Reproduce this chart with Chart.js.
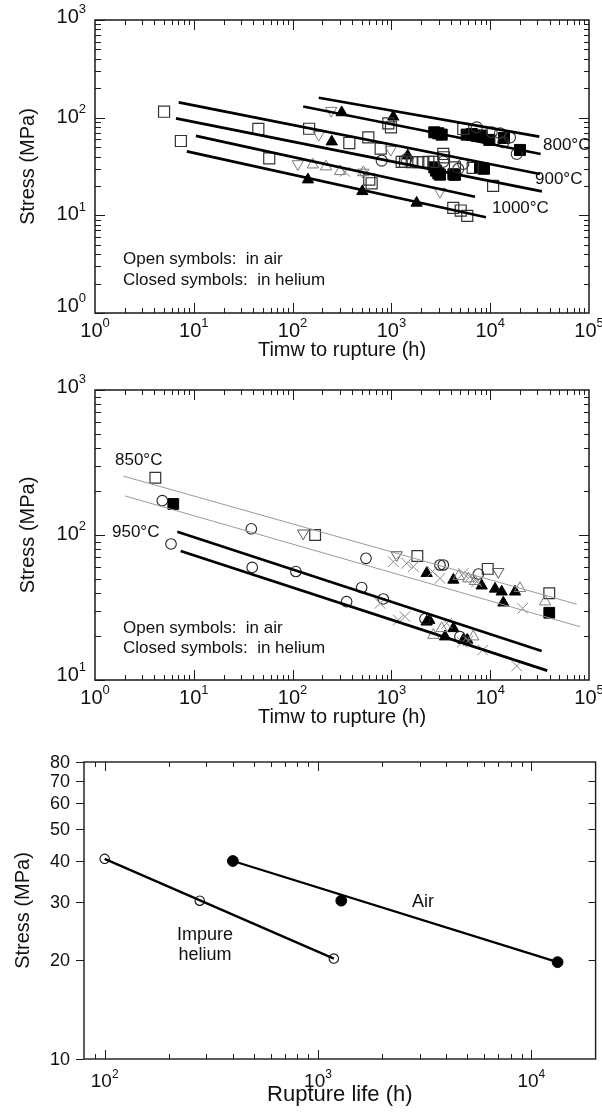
<!DOCTYPE html>
<html>
<head>
<meta charset="utf-8">
<script src="https://cdn.jsdelivr.net/npm/chart.js@4.4.1/dist/chart.umd.min.js"></script>
<style>
  html, body { margin: 0; padding: 0; background: #fff; }
  #wrap { position: relative; width: 602px; height: 1113px; }
  canvas { position: absolute; left: 0; }
</style>
</head>
<body>
<div id="wrap">
  <canvas id="c1" width="602" height="370" style="top:0px"></canvas>
  <canvas id="c2" width="602" height="370" style="top:370px"></canvas>
  <canvas id="c3" width="602" height="373" style="top:740px"></canvas>
</div>
<script>
const FF = "'Liberation Sans', Arial, Helvetica, sans-serif";

// ---------- Panel 1: 800 / 900 / 1000 °C (time h, stress MPa) ----------
const p1SqOpenT = [5, 7.4, 45, 58, 147, 375, 584, 597, 631, 779, 931, 990, 1271, 1373, 1604, 1872, 2105, 2365, 2656, 3350, 3410, 4400, 5340, 6650, 10700, 4230, 5030, 5860];
const p1SqOpenS = [115, 57.7, 76.6, 38.3, 77, 55, 62.9, 23.2, 21.3, 48.2, 87.5, 79.6, 35.3, 35.3, 35, 35, 35, 35.3, 35.3, 42.5, 39.3, 31, 76.6, 30.6, 20, 11.9, 11.2, 9.86];
const p1SqFillT = [2717, 2985, 3230, 5780, 6500, 7300, 8200, 9800, 13800, 20000, 2717, 2825, 2985, 3100, 4240, 4400, 7890, 8650];
const p1SqFillS = [70.8, 69.2, 67, 67, 68, 65.5, 65.5, 59.2, 62, 46.7, 31, 28.7, 26.9, 26.1, 26.3, 26, 30.5, 30];
const p1CircT = [798, 1420, 3350, 4750, 5340, 7300, 10350, 12560, 13580, 15850, 18550];
const p1CircS = [36.3, 37.7, 35.4, 29.9, 33.6, 79.6, 70.8, 69.2, 56, 62.8, 42.5];
const p1TriUpT = [160, 218, 302, 520];
const p1TriUpS = [33, 31.5, 28.2, 27.5];
const p1TriDnT = [113, 184, 246, 520, 984, 3100];
const p1TriDnS = [33.6, 67, 118, 27.5, 47, 17.5];
const p1TriFillT = [143, 249, 314, 508, 1045, 1462, 1800];
const p1TriFillS = [23.2, 56.8, 113, 17.6, 102, 40.8, 13.4];
const p1CrossT = [339];
const p1CrossS = [28];
// fitted lines: start/end time and stress (pairs per temperature)
const p1LineT0 = [184, 128, 7.03, 6.6, 10.5, 8.5];
const p1LineS0 = [160, 130, 143.5, 98.4, 65, 45.2];
const p1LineT1 = [31400, 32400, 31900, 33400, 7020, 9060];
const p1LineS1 = [64, 42.5, 26.5, 17.6, 15.5, 9.55];
const p1Temps = ['800°C', '900°C', '1000°C'];

// ---------- Panel 2: 850 / 950 °C ----------
const p2SqOpenT = [4.08, 169, 1830, 9440, 39600];
const p2SqOpenS = [248, 100, 71.6, 58.4, 39.6];
const p2SqFillT = [6.2, 39600];
const p2SqFillS = [163.7, 29.1];
const p2CircT = [4.8, 5.88, 38.2, 39, 108, 352, 500, 553, 828, 2188, 3100, 3350, 4940, 7590];
const p2CircS = [172.6, 86.7, 110.4, 59.8, 56, 34.7, 43.4, 69, 36.2, 26.4, 62.1, 62.1, 19.9, 53.8];
const p2TriDnT = [128, 1130, 12080];
const p2TriDnS = [102.8, 72.8, 55.8];
const p2TriUpT = [2655, 3230, 4800, 6000, 6740, 7000, 20000, 35900];
const p2TriUpS = [20.4, 22.7, 52, 50, 19.9, 48, 42.9, 34.7];
const p2TriFillT = [2275, 2275, 2420, 3490, 4240, 4240, 5350, 5860, 8200, 11200, 13070, 13580, 17830];
const p2TriFillS = [54.5, 25.2, 25.9, 19.9, 49, 22.7, 18.9, 18.9, 44.7, 42.5, 40.6, 34.1, 40.6];
const p2CrossT = [767, 1045, 1175, 1372, 1428, 1667, 2600, 3100, 3630, 5200, 5350, 6000, 6240, 7300, 8400, 18540, 21300];
const p2CrossS = [33.8, 65.5, 25.9, 27.4, 63.8, 60.4, 56, 50.2, 24.6, 18.2, 54.5, 18.6, 51.5, 47.6, 16.1, 12.5, 31.2];
const p2LineT0 = [1.93, 2.01, 6.81, 7.36];
const p2LineS0 = [255, 186, 105.4, 77.6];
const p2LineT1 = [75100, 81100, 33200, 37800];
const p2LineS1 = [33.3, 23.3, 15.85, 11.6];
const p2Temps = ['850°C', '950°C'];

// ---------- Panel 3: rupture life, air vs impure helium ----------
const heliumT = [100, 279, 1186];
const heliumS = [40.6, 30.3, 20.2];
const airT = [399, 1285, 13270];
const airS = [40, 30.3, 19.7];

// tick labels
const decadeLabels = [1, 10, 100, 1000, 10000, 100000];
const p3XLabels = [100, 1000, 10000];
const p3YLabels = [10, 20, 30, 40, 50, 60, 70, 80];
const p3YRightTicks = [20, 30, 40, 50, 60, 70];

// ---------- helpers ----------
function pts(T, S) { return T.map((t, i) => ({ x: t, y: S[i] })); }

function markers(T, S, style) {
  const s = Object.assign({ pointStyle: 'circle', radius: 5, color: '#222', fill: 'rgba(0,0,0,0)', width: 1.2, rotation: 0 }, style);
  return {
    data: pts(T, S), showLine: false,
    pointStyle: s.pointStyle, pointRadius: s.radius, pointRotation: s.rotation,
    pointBorderColor: s.color, pointBackgroundColor: s.fill, pointBorderWidth: s.width,
    borderColor: s.color, backgroundColor: s.fill
  };
}

function segment(t0, s0, t1, s1, width, color) {
  return {
    data: [{ x: t0, y: s0 }, { x: t1, y: s1 }], showLine: true,
    pointRadius: 0, borderWidth: width, borderColor: color, fill: false
  };
}

function logSteps(min, max) {
  const major = [], minor = [];
  for (let e = Math.floor(Math.log10(min)); e <= Math.ceil(Math.log10(max)); e++) {
    for (let m = 1; m <= 9; m++) {
      const v = m * Math.pow(10, e);
      if (v < min * 0.9999 || v > max * 1.0001) continue;
      (m === 1 ? major : minor).push(v);
    }
  }
  return { major, minor };
}

function drawPow(ctx, v, x, y, align, size, esize) {
  const b = '10', e = String(Math.round(Math.log10(v)));
  ctx.font = size + 'px ' + FF; const wb = ctx.measureText(b).width;
  ctx.font = esize + 'px ' + FF; const we = ctx.measureText(e).width;
  const w = wb + we;
  const x0 = align === 'center' ? x - w / 2 : (align === 'right' ? x - w : x);
  ctx.textAlign = 'left'; ctx.textBaseline = 'alphabetic';
  ctx.font = size + 'px ' + FF; ctx.fillText(b, x0, y);
  ctx.font = esize + 'px ' + FF; ctx.fillText(e, x0 + wb, y - size * 0.48);
}

// frame, inward/outward ticks, tick labels, titles and notes
function makeFrame(spec) {
  return {
    id: 'axesFrame',
    beforeDatasetsDraw(chart) {
      const { ctx, chartArea: a } = chart;
      const xs = chart.scales.x, ys = chart.scales.y;
      const X = v => Math.round(xs.getPixelForValue(v)) + 0.5;
      const Y = v => Math.round(ys.getPixelForValue(v)) + 0.5;
      ctx.save();
      ctx.strokeStyle = '#1a1a1a';
      ctx.lineWidth = 1;
      ctx.beginPath();
      const seg = (x1, y1, x2, y2) => { ctx.moveTo(x1, y1); ctx.lineTo(x2, y2); };
      spec.xTicks.forEach(g => g.vals.forEach(v => {
        const p = X(v);
        if (p <= a.left + 1 || p >= a.right - 1) return;
        seg(p, a.top, p, a.top + g.len);
        seg(p, a.bottom, p, a.bottom - g.len);
      }));
      spec.yLeft.forEach(g => g.vals.forEach(v => {
        const p = Y(v);
        seg(a.left - (g.out || 0), p, a.left + (g.in || 0), p);
      }));
      spec.yRight.forEach(g => g.vals.forEach(v => {
        const p = Y(v);
        if (p <= a.top + 1 || p >= a.bottom - 1) return;
        seg(a.right, p, a.right - g.len, p);
      }));
      ctx.stroke();
      ctx.lineWidth = spec.frameWidth;
      ctx.strokeRect(a.left, a.top, a.right - a.left, a.bottom - a.top);
      ctx.restore();
    },
    afterDatasetsDraw(chart) {
      const { ctx, chartArea: a } = chart;
      const xs = chart.scales.x, ys = chart.scales.y;
      ctx.save();
      ctx.fillStyle = '#111';
      const xl = spec.xLabels;
      xl.vals.forEach(v => {
        const px = xs.getPixelForValue(v);
        if (xl.pow) drawPow(ctx, v, px, a.bottom + xl.dy, 'center', xl.size, xl.esize);
      });
      const yl = spec.yLabels;
      yl.vals.forEach((v, i) => {
        const py = ys.getPixelForValue(v);
        let dy = yl.dy;
        if (yl.dyLow !== undefined && i === 0) dy = yl.dyLow;
        if (yl.dyHigh !== undefined && i === yl.vals.length - 1) dy = yl.dyHigh;
        if (yl.pow) {
          drawPow(ctx, v, yl.right, py + dy, 'right', yl.size, yl.esize);
        } else {
          ctx.font = yl.size + 'px ' + FF;
          ctx.textAlign = 'right'; ctx.textBaseline = 'alphabetic';
          ctx.fillText(String(v), yl.right, py + dy);
        }
      });
      // axis titles
      ctx.textAlign = 'center'; ctx.textBaseline = 'alphabetic';
      ctx.font = spec.xTitle.size + 'px ' + FF;
      ctx.fillText(spec.xTitle.text, (a.left + a.right) / 2, a.bottom + spec.xTitle.dy);
      ctx.save();
      ctx.translate(spec.yTitle.x, (a.top + a.bottom) / 2);
      ctx.rotate(-Math.PI / 2);
      ctx.font = spec.yTitle.size + 'px ' + FF;
      ctx.fillText(spec.yTitle.text, 0, 0);
      ctx.restore();
      // annotations
      spec.notes.forEach(n => {
        ctx.font = n.size + 'px ' + FF;
        ctx.textAlign = n.align || 'left';
        ctx.fillText(n.text, n.x, n.y);
      });
      ctx.restore();
    }
  };
}

function makeChart(id, datasets, xRange, yRange, padding, spec) {
  return new Chart(document.getElementById(id), {
    type: 'scatter',
    data: { datasets },
    options: {
      responsive: false, animation: false, devicePixelRatio: 1, events: [],
      layout: { padding },
      scales: {
        x: { type: 'logarithmic', min: xRange[0], max: xRange[1], display: false },
        y: { type: 'logarithmic', min: yRange[0], max: yRange[1], display: false }
      },
      plugins: { legend: { display: false }, tooltip: { enabled: false } }
    },
    plugins: [makeFrame(spec)]
  });
}

const GRAY = '#7a7a7a';

// ---------- Panel 1 ----------
{
  const ds = [];
  p1LineT0.forEach((t, i) => ds.push(segment(t, p1LineS0[i], p1LineT1[i], p1LineS1[i], 2.7, '#000')));
  ds.push(markers(p1TriUpT, p1TriUpS, { pointStyle: 'triangle', radius: 6.5, color: GRAY, width: 1 }));
  ds.push(markers(p1TriDnT, p1TriDnS, { pointStyle: 'triangle', radius: 6.5, color: GRAY, width: 1, rotation: 180 }));
  ds.push(markers(p1CrossT, p1CrossS, { pointStyle: 'crossRot', radius: 7, color: GRAY, width: 1 }));
  ds.push(markers(p1CircT, p1CircS, { pointStyle: 'circle', radius: 5.5, color: '#333', width: 1.1 }));
  ds.push(markers(p1SqOpenT, p1SqOpenS, { pointStyle: 'rect', radius: 7.8, color: '#333', width: 1.2 }));
  ds.push(markers(p1SqFillT, p1SqFillS, { pointStyle: 'rect', radius: 7.8, color: '#000', fill: '#000', width: 1 }));
  ds.push(markers(p1TriFillT, p1TriFillS, { pointStyle: 'triangle', radius: 6.5, color: '#000', fill: '#000', width: 1 }));
  const xs = logSteps(1, 1e5), ys = logSteps(1, 1000);
  makeChart('c1', ds, [1, 1e5], [1, 1000], { left: 95, top: 20, right: 13, bottom: 57 }, {
    frameWidth: 1.5,
    xTicks: [{ vals: xs.major, len: 10 }, { vals: xs.minor, len: 5 }],
    yLeft: [{ vals: ys.major, in: 10 }, { vals: ys.minor, in: 6 }],
    yRight: [{ vals: ys.major, len: 10 }, { vals: ys.minor, len: 5 }],
    xLabels: { vals: decadeLabels, pow: true, size: 20, esize: 13, dy: 24 },
    yLabels: { vals: decadeLabels.slice(0, 4), pow: true, size: 20, esize: 13, right: 86, dy: 5, dyLow: -1, dyHigh: 3 },
    xTitle: { text: 'Timw to rupture (h)', size: 20, dy: 43 },
    yTitle: { text: 'Stress (MPa)', size: 20, x: 34 },
    notes: [
      { text: 'Open symbols:  in air', x: 123, y: 264, size: 17 },
      { text: 'Closed symbols:  in helium', x: 123, y: 285, size: 17 },
      { text: p1Temps[0], x: 543, y: 150, size: 17 },
      { text: p1Temps[1], x: 535, y: 184, size: 17 },
      { text: p1Temps[2], x: 492, y: 213, size: 17 }
    ]
  });
}

// ---------- Panel 2 ----------
{
  const ds = [];
  p2LineT0.forEach((t, i) => ds.push(segment(t, p2LineS0[i], p2LineT1[i], p2LineS1[i], i < 2 ? 1 : 2.7, i < 2 ? '#9a9a9a' : '#000')));
  ds.push(markers(p2CrossT, p2CrossS, { pointStyle: 'crossRot', radius: 7.5, color: '#8a8a8a', width: 1 }));
  ds.push(markers(p2TriUpT, p2TriUpS, { pointStyle: 'triangle', radius: 6.5, color: GRAY, width: 1 }));
  ds.push(markers(p2TriDnT, p2TriDnS, { pointStyle: 'triangle', radius: 6.5, color: '#555', width: 1, rotation: 180 }));
  ds.push(markers(p2CircT, p2CircS, { pointStyle: 'circle', radius: 5.3, color: '#222', width: 1.1 }));
  ds.push(markers(p2SqOpenT, p2SqOpenS, { pointStyle: 'rect', radius: 7.6, color: '#333', width: 1.2 }));
  ds.push(markers(p2SqFillT, p2SqFillS, { pointStyle: 'rect', radius: 7.6, color: '#000', fill: '#000', width: 1 }));
  ds.push(markers(p2TriFillT, p2TriFillS, { pointStyle: 'triangle', radius: 6.5, color: '#000', fill: '#000', width: 1 }));
  const xs = logSteps(1, 1e5), ys = logSteps(10, 1000);
  makeChart('c2', ds, [1, 1e5], [10, 1000], { left: 95, top: 20, right: 13, bottom: 60 }, {
    frameWidth: 1.5,
    xTicks: [{ vals: xs.major, len: 10 }, { vals: xs.minor, len: 5 }],
    yLeft: [{ vals: ys.major, in: 10 }, { vals: ys.minor, in: 6 }],
    yRight: [{ vals: ys.major, len: 10 }, { vals: ys.minor, len: 5 }],
    xLabels: { vals: decadeLabels, pow: true, size: 20, esize: 13, dy: 24 },
    yLabels: { vals: decadeLabels.slice(1, 4), pow: true, size: 20, esize: 13, right: 86, dy: 5, dyLow: 1, dyHigh: 3 },
    xTitle: { text: 'Timw to rupture (h)', size: 20, dy: 43 },
    yTitle: { text: 'Stress (MPa)', size: 20, x: 34 },
    notes: [
      { text: p2Temps[0], x: 115, y: 95, size: 17 },
      { text: p2Temps[1], x: 112, y: 166.5, size: 17 },
      { text: 'Open symbols:  in air', x: 123, y: 263, size: 17 },
      { text: 'Closed symbols:  in helium', x: 123, y: 283, size: 17 }
    ]
  });
}

// ---------- Panel 3 ----------
{
  const last = heliumT.length - 1, lastA = airT.length - 1;
  const ds = [
    segment(heliumT[0], heliumS[0], heliumT[last], heliumS[last], 2.3, '#000'),
    segment(airT[0], airS[0], airT[lastA], airS[lastA], 2.3, '#000'),
    markers(heliumT, heliumS, { pointStyle: 'circle', radius: 4.7, color: '#111', fill: '#fff', width: 1.1 }),
    markers(airT, airS, { pointStyle: 'circle', radius: 5.4, color: '#000', fill: '#000', width: 1 })
  ];
  const xs = logSteps(80, 20000);
  makeChart('c3', ds, [80, 20000], [10, 80], { left: 84, top: 22, right: 6, bottom: 54 }, {
    frameWidth: 1.4,
    xTicks: [{ vals: xs.major, len: 9 }, { vals: xs.minor, len: 5 }],
    yLeft: [{ vals: p3YLabels, out: 8, in: 0 }],
    yRight: [{ vals: p3YRightTicks, len: 7 }],
    xLabels: { vals: p3XLabels, pow: true, size: 19, esize: 12, dy: 28 },
    yLabels: { vals: p3YLabels, pow: false, size: 18, right: 70, dy: 6 },
    xTitle: { text: 'Rupture life (h)', size: 22, dy: 42 },
    yTitle: { text: 'Stress (MPa)', size: 20, x: 29 },
    notes: [
      { text: 'Impure', x: 205, y: 200, size: 18, align: 'center' },
      { text: 'helium', x: 205, y: 220, size: 18, align: 'center' },
      { text: 'Air', x: 423, y: 167, size: 18, align: 'center' }
    ]
  });
}
</script>
</body>
</html>
